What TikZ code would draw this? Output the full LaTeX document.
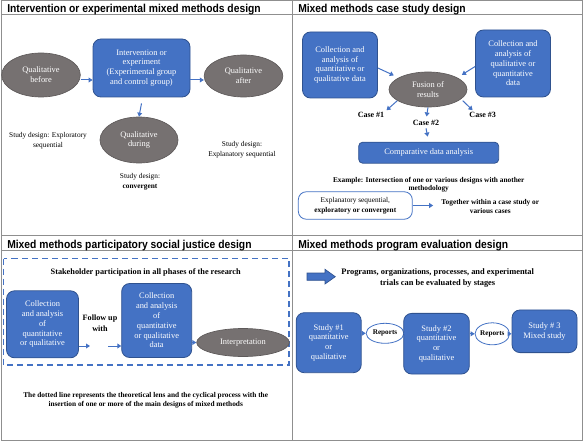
\documentclass[tikz,border=0pt]{standalone}
\usepackage{fontspec}
\setmainfont{Liberation Serif}
\newfontfamily\headfont[FakeStretch=0.9]{Liberation Sans Bold}
\usetikzlibrary{shapes.geometric, arrows.meta, positioning}
\definecolor{boxblue}{HTML}{4472C4}
\definecolor{boxedge}{HTML}{2F528F}
\definecolor{ellgray}{HTML}{767171}
\definecolor{elledge}{HTML}{5E5A5A}
\definecolor{panelgray}{HTML}{8F8F8F}

\begin{document}
\begin{tikzpicture}[
        x=0.75pt, y=-0.75pt,
        panel/.style={draw=panelgray, line width=0.75pt},
        headline/.style={anchor=base west, inner sep=0pt, font=\headfont\fontsize{8.6}{10}\selectfont},
        node_box/.style={rectangle, rounded corners=6pt, draw=boxedge, fill=boxblue, line width=0.6pt, text=white, align=center, inner sep=1pt, font=\fontsize{6.3}{7.35}\selectfont},
        node_ell/.style={ellipse, draw=elledge, fill=ellgray, line width=0.5pt, text=white, align=center, inner sep=0pt, font=\fontsize{6.3}{7.35}\selectfont},
        report/.style={ellipse, draw=boxblue, fill=white, line width=0.6pt, inner sep=0pt, font=\bfseries\fontsize{5.4}{6.5}\selectfont},
        remark/.style={align=center, inner sep=0pt, font=\fontsize{5.5}{7.5}\selectfont},
        boldremark/.style={remark, font=\bfseries\fontsize{5.5}{7}\selectfont},
        arrow/.style={-{Triangle[length=3pt,width=3.6pt]}, draw=boxblue, line width=0.75pt},
        lens/.style={draw=boxblue, dash pattern=on 4.5pt off 3pt, line width=1pt}
    ]
    \useasboundingbox (0,0) rectangle (584,442);

    % frame of the four panels
    \draw[panel] (1,1) rectangle (582,440);
    \draw[panel] (292,1) -- (292,440);
    \draw[panel] (1,15) -- (582,15);
    \draw[panel] (1,235.5) -- (582,235.5);
    \draw[panel] (1,250.5) -- (582,250.5);

    \node[headline] (title1) at (7,13) {Intervention or experimental mixed methods design};
    \node[headline] (title2) at (298,13) {Mixed methods case study design};
    \node[headline] (title3) at (7,248) {Mixed methods participatory social justice design};
    \node[headline] (title4) at (298,248) {Mixed methods program evaluation design};

    % intervention or experimental
    \node[node_ell, minimum width=59pt, minimum height=33pt] (before) at (41,75) {Qualitative\\before};
    \node[node_box, minimum width=72.75pt, minimum height=43.5pt] (interv) at (141.5,68) {Intervention or\\experiment\\(Experimental group\\and control group)};
    \node[node_ell, minimum width=59pt, minimum height=31.5pt] (after) at (243.5,76) {Qualitative\\after};
    \node[node_ell, minimum width=58.5pt, minimum height=34.5pt] (during) at (139,140) {Qualitative\\during};

    \draw[arrow] ([yshift=-3.75pt]before.east) -- ([yshift=-3.75pt]before.east -| interv.west);
    \draw[arrow] ([yshift=-3pt]after.west -| interv.east) -- ([yshift=-3pt]after.west);
    \draw[arrow] ([yshift=-4.5pt]interv.south) -- (during.north);

    \node[remark] (sdexplor) at (48,140.7) {Study design: Exploratory\\sequential};
    \node[remark] (sdconv) at (140,182) {Study design:\\\textbf{convergent}};
    \node[remark] (sdexplan) at (242,150) {Study design:\\Explanatory sequential};

    % case study
    \node[node_box, minimum width=56.25pt, minimum height=49.5pt] (cleft) at (340,65) {Collection and\\analysis of\\quantitative or\\qualitative data};
    \node[node_box, minimum width=56.25pt, minimum height=50.25pt] (cright) at (513,63.5) {Collection and\\analysis of\\qualitative or\\quantitative\\data};
    \node[node_ell, minimum width=58.5pt, minimum height=26.25pt] (fusion) at (428,89.5) {Fusion of\\results};
    \node[boldremark, font=\bfseries\fontsize{6}{7}\selectfont] (case1) at (371,115) {Case \#1};
    \node[boldremark, font=\bfseries\fontsize{6}{7}\selectfont] (case2) at (426,122.7) {Case \#2};
    \node[boldremark, font=\bfseries\fontsize{6}{7}\selectfont] (case3) at (482.7,115) {Case \#3};
    \node[node_box, rounded corners=3pt, minimum width=105pt, minimum height=15.75pt] (comp) at (428.7,152.7) {Comparative data analysis};

    \draw[arrow, shorten >=4pt] ([yshift=-2.25pt]cleft.east) -- (fusion.158);
    \draw[arrow, shorten >=4pt] ([yshift=-2.25pt]cright.west) -- (fusion.22);
    \draw[arrow, shorten >=2pt] (fusion.200) -- (case1.north east);
    \draw[arrow, shorten >=2.5pt] (fusion.south) -- (case2.north);
    \draw[arrow, shorten >=2pt] ([xshift=3pt]fusion.-20) -- ([xshift=4pt]case3.north west);
    \draw[arrow, shorten >=4pt] ([yshift=-2pt]case2.south) -- (comp.north);

    \node[boldremark, font=\bfseries\fontsize{5.5}{6}\selectfont] (example) at (428.7,185) {Example: Intersection of one or various designs with another\\methodology};
    \node[node_box, fill=white, draw=boxblue, text=black, minimum width=85.5pt, minimum height=20.6pt, font=\fontsize{5.5}{7.5}\selectfont] (expl) at (355.3,205.5) {Explanatory sequential,\\\textbf{exploratory or convergent}};
    \node[boldremark] (together) at (490.3,206.8) {Together within a case study or\\various cases};
    \draw[arrow, shorten >=6pt] (expl.east) -- (expl.east -| together.west);

    % participatory social justice
    \draw[lens] (3.5,258.5) rectangle (289,365);
    \node[boldremark, font=\bfseries\fontsize{6.2}{7}\selectfont] (stake) at (145.7,272.7) {Stakeholder participation in all phases of the research};
    \node[node_box, minimum width=54pt, minimum height=50.25pt] (pleft) at (42.5,324.3) {Collection\\and analysis\\of\\quantitative\\or qualitative};
    \node[boldremark, font=\bfseries\fontsize{6.1}{8.2}\selectfont] (follow) at (100,323) {Follow up\\with};
    \node[node_box, minimum width=52.5pt, minimum height=55.5pt] (pmid) at (156.7,320.5) {Collection\\and analysis\\of\\quantitative\\or qualitative\\data};
    \node[node_ell, minimum width=69.5pt, minimum height=21pt] (interp) at (243,342.5) {Interpretation};
    \coordinate (fuin) at (90,346);
    \coordinate (fuout) at (108.3,346);

    \draw[arrow] (pleft.east |- fuin) -- (fuin);
    \draw[arrow] (fuout) -- (fuout -| pmid.west);
    \draw[arrow] (pmid.east |- interp.west) -- (interp.west);

    \node[boldremark] (lensnote) at (145.7,400.5) {The dotted line represents the theoretical lens and the cyclical process with the\\insertion of one or more of the main designs of mixed methods};

    % program evaluation
    \filldraw[fill=boxblue, draw=boxedge, line width=0.5pt] (307,273) -- (325,273) -- (325,269.3) -- (335.3,276.7) -- (325,284) -- (325,280.3) -- (307,280.3) -- cycle;
    \node[boldremark, font=\bfseries\fontsize{6.3}{8}\selectfont] (stagetext) at (437.7,278) {Programs, organizations, processes, and experimental\\trials can be evaluated by stages};
    \node[node_box, minimum width=48.75pt, minimum height=45pt] (study1) at (328.7,342.7) {Study \#1\\quantitative\\or\\qualitative};
    \node[report, minimum width=28.3pt, minimum height=15pt] (rep1) at (385,333.3) {Reports};
    \node[node_box, minimum width=49.2pt, minimum height=45.5pt] (study2) at (436.5,343.7) {Study \#2\\quantitative\\or\\qualitative};
    \node[report, minimum width=25.5pt, minimum height=16.5pt] (rep2) at (492.3,333.8) {Reports};
    \node[node_box, minimum width=48.75pt, minimum height=32pt] (study3) at (544.5,331.3) {Study \# 3\\Mixed study};

    \draw[arrow] (study1.east |- rep1.west) -- (rep1.west);
    \draw[arrow] (rep1.east) -- (rep1.east -| study2.west);
    \draw[arrow] (study2.east |- rep2.west) -- (rep2.west);
    \draw[arrow] (rep2.east) -- (rep2.east -| study3.west);
\end{tikzpicture}
\end{document}
